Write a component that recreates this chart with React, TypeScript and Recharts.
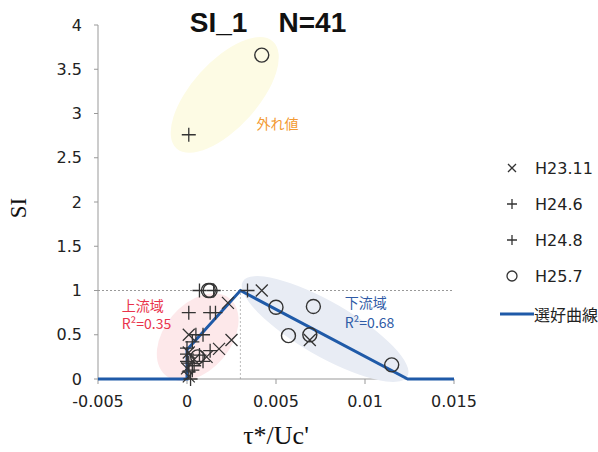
import React from 'react'
import { ScatterChart, Scatter, XAxis, YAxis, ReferenceLine, ReferenceDot, Label } from 'recharts'

// τ*/Uc' vs SI
const xTicks = [-0.005, 0, 0.005, 0.01, 0.015]
const yTicks = [0, 0.5, 1, 1.5, 2, 2.5, 3, 3.5, 4]

const h23_11 = [
  { x: 0.0042, y: 1.0 }, { x: 0.0069, y: 0.44 }, { x: 0.0023, y: 0.86 }, { x: 0.0001, y: 0.5 },
  { x: 0.0025, y: 0.44 }, { x: 0.0018, y: 0.34 }, { x: 0.0011, y: 0.25 }, { x: 0.0001, y: 0.3 },
  { x: 0.0, y: 0.12 }, { x: 0.0001, y: 0.03 }, { x: 0.0004, y: 0.22 },
]

const h24_6 = [
  { x: 0.0001, y: 2.76 }, { x: 0.0001, y: 0.75 }, { x: 0.0013, y: 0.75 }, { x: 0.0007, y: 1.0 },
  { x: 0.0034, y: 1.0 }, { x: 0.0009, y: 0.5 }, { x: 0.0, y: 0.2 }, { x: 0.0001, y: 0.08 },
  { x: 0.0004, y: 0.15 }, { x: 0.0013, y: 0.32 }, { x: 0.0007, y: 0.27 },
]

const h24_8 = [
  { x: 0.0016, y: 0.75 }, { x: 0.0015, y: 1.0 }, { x: 0.0005, y: 0.5 }, { x: 0.0, y: 0.35 },
  { x: 0.0002, y: 0.0 }, { x: 0.0003, y: 0.1 }, { x: 0.0, y: 0.28 }, { x: 0.0009, y: 0.2 },
  { x: 0.0003, y: 0.42 }, { x: 0.0001, y: 0.18 },
]

const h25_7 = [
  { x: 0.0042, y: 3.66 }, { x: 0.0012, y: 1.0 }, { x: 0.0013, y: 1.0 }, { x: 0.005, y: 0.81 },
  { x: 0.0071, y: 0.82 }, { x: 0.0057, y: 0.49 }, { x: 0.0069, y: 0.5 }, { x: 0.0115, y: 0.16 },
  { x: 0.0006, y: 0.25 },
]

// 選好曲線
const curve = [
  { x: -0.005, y: 0 }, { x: 0, y: 0 }, { x: 0, y: 0.33 }, { x: 0.003, y: 1 },
  { x: 0.0124, y: 0 }, { x: 0.015, y: 0 },
]

// shaded groups: centre in data units
const groups = [
  { x: 0.00212, y: 3.21, rx: 72, ry: 33, angle: -48, fill: '#fdfbe4' },
  { x: 0.0006, y: 0.475, rx: 50, ry: 33, angle: -50, fill: '#fde8ea' },
  { x: 0.00776, y: 0.565, rx: 95, ry: 27, angle: 30, fill: '#e8ecf4' },
]

const notes = [
  { x: 0.0039, y: 2.89, text: '外れ値', color: '#f39a33' },
  { x: -0.00367, y: 0.84, text: '上流域', color: '#e9334c' },
  { x: -0.00367, y: 0.63, text: 'R²=0.35', color: '#e9334c' },
  { x: 0.00886, y: 0.87, text: '下流域', color: '#2f5ba6' },
  { x: 0.00886, y: 0.64, text: 'R²=0.68', color: '#2f5ba6' },
]

const legendItems = [
  { name: 'H23.11', kind: 'x' },
  { name: 'H24.6', kind: 'plus' },
  { name: 'H24.8', kind: 'plus' },
  { name: 'H25.7', kind: 'circle' },
  { name: '選好曲線', kind: 'line' },
]

const MARK = '#333'
const BLUE = '#1f5aa8'
const tickFont = { fill: '#222', fontSize: 16, fontFamily: 'DejaVu Sans' }

const Cross = (p: any) => (
  <path d={`M${p.cx - 6},${p.cy - 6}L${p.cx + 6},${p.cy + 6}M${p.cx - 6},${p.cy + 6}L${p.cx + 6},${p.cy - 6}`} stroke={MARK} strokeWidth={1.3} fill="none" />
)
const Plus = (p: any) => (
  <path d={`M${p.cx - 7},${p.cy}L${p.cx + 7},${p.cy}M${p.cx},${p.cy - 7}L${p.cx},${p.cy + 7}`} stroke={MARK} strokeWidth={1.3} fill="none" />
)
const Ring = (p: any) => <circle cx={p.cx} cy={p.cy} r={7} stroke={MARK} strokeWidth={1.4} fill="none" />

function LegendMark({ kind }: { kind: string }) {
  if (kind === 'line') return <svg width={34} height={10}><line x1={0} y1={5} x2={34} y2={5} stroke={BLUE} strokeWidth={3} /></svg>
  return (
    <svg width={34} height={14}>
      {kind === 'x' && <path d="M8,3L16,11M8,11L16,3" stroke={MARK} strokeWidth={1.3} />}
      {kind === 'plus' && <path d="M7,7L17,7M12,2L12,12" stroke={MARK} strokeWidth={1.3} />}
      {kind === 'circle' && <circle cx={12} cy={7} r={5} stroke={MARK} strokeWidth={1.3} fill="none" />}
    </svg>
  )
}

export default function App() {
  return (
    <div style={{ position: 'absolute', left: 0, top: 0, width: 598, height: 452, background: '#fff' }}>
      <div style={{ position: 'absolute', left: 0, width: 536, top: 7, textAlign: 'center', fontFamily: 'Liberation Sans', fontWeight: 'bold', fontSize: 28, color: '#111', whiteSpace: 'pre' }}>
        {'SI_1    N=41'}
      </div>
      <ScatterChart width={598} height={452} margin={{ top: 25, right: 144, bottom: 0, left: 0 }}>
        <XAxis
          type="number"
          dataKey="x"
          domain={[-0.005, 0.015]}
          ticks={xTicks}
          interval={0}
          height={73}
          stroke="#999"
          tickSize={5}
          tickMargin={12}
          tick={tickFont}
        >
          <Label
            content={({ viewBox }: any) => (
              <text x={viewBox.x + viewBox.width / 2} y={viewBox.y + 65} textAnchor="middle" fontFamily="Liberation Serif" fontSize={26} fill="#111">
                τ*/Uc'
              </text>
            )}
          />
        </XAxis>
        <YAxis
          type="number"
          dataKey="y"
          domain={[0, 4]}
          ticks={yTicks}
          interval={0}
          width={98}
          stroke="#999"
          tickSize={4}
          tickMargin={12}
          tick={tickFont}
        >
          <Label
            content={({ viewBox }: any) => {
              const cx = viewBox.x + 18
              const cy = viewBox.y + viewBox.height / 2 + 6
              return (
                <text x={cx} y={cy} transform={`rotate(-90 ${cx} ${cy})`} textAnchor="middle" dominantBaseline="central" fontFamily="Liberation Serif" fontSize={23} fill="#111">
                  SI
                </text>
              )
            }}
          />
        </YAxis>

        {groups.map((g, i) => (
          <ReferenceDot
            key={`g-${i}`}
            x={g.x}
            y={g.y}
            r={0}
            shape={(p: any) => (
              <ellipse cx={p.cx} cy={p.cy} rx={g.rx} ry={g.ry} fill={g.fill} transform={`rotate(${g.angle} ${p.cx} ${p.cy})`} />
            )}
          />
        ))}

        <ReferenceLine y={1} stroke="#999" strokeDasharray="2 2" />
        <ReferenceLine segment={[{ x: 0.003, y: 0 }, { x: 0.003, y: 1 }]} stroke="#bbb" strokeDasharray="2 2" />

        {notes.map((n, i) => (
          <ReferenceDot
            key={`n-${i}`}
            x={n.x}
            y={n.y}
            r={0}
            shape={(p: any) => (
              <text x={p.cx} y={p.cy} dominantBaseline="central" fontFamily="Noto Sans CJK JP" fontSize={14} fill={n.color}>
                {n.text}
              </text>
            )}
          />
        ))}

        <Scatter name="選好曲線" data={curve} line={{ stroke: BLUE, strokeWidth: 3 }} shape={() => null} isAnimationActive={false} />
        <Scatter name="H23.11" data={h23_11} shape={Cross} isAnimationActive={false} />
        <Scatter name="H24.6" data={h24_6} shape={Plus} isAnimationActive={false} />
        <Scatter name="H24.8" data={h24_8} shape={Plus} isAnimationActive={false} />
        <Scatter name="H25.7" data={h25_7} shape={Ring} isAnimationActive={false} />
      </ScatterChart>

      <div style={{ position: 'absolute', left: 500, top: 150, fontFamily: 'DejaVu Sans, Noto Sans CJK JP', fontSize: 16, color: '#222' }}>
        {legendItems.map((it, i) => (
          <div key={it.name} style={{ display: 'flex', alignItems: 'center', height: 36, marginTop: i === 4 ? 2 : 0 }}>
            <LegendMark kind={it.kind} />
            <span style={{ marginLeft: it.kind === 'line' ? 0 : 1 }}>{it.name}</span>
          </div>
        ))}
      </div>
    </div>
  )
}
